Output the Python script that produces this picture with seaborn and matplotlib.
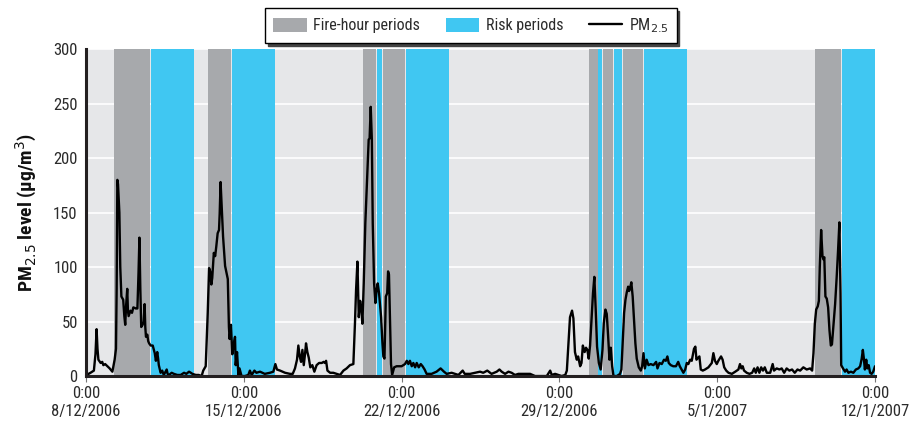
import numpy as np
import pandas as pd
import matplotlib
matplotlib.use("Agg")
import matplotlib.pyplot as plt
import matplotlib.dates as mdates
from matplotlib import font_manager
from matplotlib.patches import Patch
from matplotlib.lines import Line2D
import seaborn as sns

# ---------------- data ----------------
start_date = "2006-12-08"
tick_labels = ["0:00\n8/12/2006", "0:00\n15/12/2006", "0:00\n22/12/2006",
               "0:00\n29/12/2006", "0:00\n5/1/2007", "0:00\n12/1/2007"]
y_ticks = [0, 50, 100, 150, 200, 250, 300]

# fire-hour periods and risk periods (days since start)
fire_start = [1.25, 5.43, 12.30, 13.19, 22.32, 22.95, 23.82, 32.34]
fire_end = [2.84, 6.43, 12.87, 14.15, 22.70, 23.37, 24.70, 33.50]
risk_start = [2.88, 6.48, 12.90, 14.18, 22.73, 23.40, 24.76, 33.54]
risk_end = [4.80, 8.40, 13.15, 16.10, 22.91, 23.78, 26.66, 35.00]

# PM2.5 series (days since start, µg/m3)
pm_day = [0.00, 0.03, 0.20, 0.35, 0.42, 0.47, 0.51, 0.55, 0.65, 0.72, 0.77, 0.85, 0.95, 1.05, 1.17,
          1.27, 1.33, 1.36, 1.39, 1.42, 1.48, 1.52, 1.57, 1.65, 1.70, 1.74, 1.78, 1.83, 1.86, 1.89,
          1.97, 2.04, 2.10, 2.21, 2.28, 2.33, 2.37, 2.41, 2.45, 2.51, 2.56, 2.60, 2.63, 2.66, 2.72,
          2.76, 2.80, 2.87, 2.96, 3.00, 3.05, 3.10, 3.16, 3.20, 3.23, 3.31, 3.38, 3.45, 3.58, 3.62,
          3.68, 3.80, 3.90, 4.05, 4.20, 4.35, 4.45, 4.57, 4.65, 4.72, 4.87, 5.00, 5.13, 5.20, 5.31,
          5.40, 5.46, 5.51, 5.56, 5.60, 5.67, 5.73, 5.78, 5.84, 5.90, 5.93, 5.97, 6.02, 6.08, 6.17,
          6.29, 6.34, 6.37, 6.43, 6.49, 6.55, 6.61, 6.64, 6.70, 6.76, 6.81, 6.90, 7.05, 7.20, 7.27,
          7.35, 7.47, 7.56, 7.72, 7.93, 8.16, 8.31, 8.40, 8.47, 8.61, 8.83, 9.05, 9.17, 9.27, 9.36,
          9.42, 9.48, 9.54, 9.60, 9.66, 9.72, 9.76, 9.82, 9.88, 9.95, 10.04, 10.13, 10.23, 10.34, 10.46,
          10.54, 10.60, 10.65, 10.71, 10.83, 10.97, 11.12, 11.27, 11.42, 11.56, 11.71, 11.86, 11.93, 11.98, 12.04,
          12.10, 12.16, 12.22, 12.26, 12.32, 12.39, 12.48, 12.54, 12.58, 12.63, 12.68, 12.72, 12.78, 12.84, 12.89,
          12.94, 13.00, 13.09, 13.15, 13.19, 13.24, 13.30, 13.36, 13.40, 13.44, 13.49, 13.53, 13.58, 13.67, 13.78,
          14.00, 14.15, 14.23, 14.30, 14.37, 14.45, 14.52, 14.60, 14.67, 14.76, 14.85, 14.93, 15.02, 15.11, 15.33,
          15.55, 15.73, 15.88, 16.00, 16.22, 16.37, 16.52, 16.71, 16.80, 17.04, 17.26, 17.48, 17.62, 17.80, 17.99,
          18.22, 18.34, 18.44, 18.59, 18.74, 18.88, 19.03, 19.18, 19.33, 19.48, 19.70, 19.92, 20.14, 20.44, 20.59,
          20.66, 20.81, 20.96, 21.10, 21.26, 21.33, 21.40, 21.47, 21.56, 21.62, 21.69, 21.77, 21.83, 21.92, 21.98,
          22.04, 22.12, 22.18, 22.24, 22.30, 22.36, 22.43, 22.49, 22.55, 22.61, 22.67, 22.75, 22.83, 22.91, 22.97,
          23.04, 23.10, 23.16, 23.22, 23.28, 23.34, 23.40, 23.55, 23.69, 23.75, 23.81, 23.87, 23.93, 23.99, 24.05,
          24.09, 24.13, 24.19, 24.25, 24.31, 24.37, 24.43, 24.52, 24.61, 24.67, 24.73, 24.79, 24.87, 24.95, 25.05,
          25.17, 25.29, 25.35, 25.44, 25.54, 25.64, 25.72, 25.79, 25.85, 25.94, 26.05, 26.17, 26.27, 26.34, 26.42,
          26.50, 26.58, 26.65, 26.72, 26.80, 26.87, 26.97, 27.03, 27.08, 27.12, 27.21, 27.27, 27.36, 27.46, 27.61,
          27.76, 27.83, 27.90, 27.98, 28.05, 28.17, 28.24, 28.31, 28.40, 28.50, 28.65, 28.80, 28.94, 29.01, 29.07,
          29.13, 29.19, 29.31, 29.43, 29.55, 29.64, 29.71, 29.79, 29.87, 29.95, 30.03, 30.11, 30.20, 30.35, 30.46,
          30.52, 30.64, 30.76, 30.86, 30.97, 31.08, 31.20, 31.32, 31.44, 31.56, 31.68, 31.82, 31.97, 32.12, 32.21,
          32.27, 32.33, 32.39, 32.46, 32.51, 32.55, 32.61, 32.67, 32.71, 32.75, 32.80, 32.86, 32.92, 32.98, 33.04,
          33.09, 33.15, 33.23, 33.30, 33.36, 33.42, 33.47, 33.50, 33.58, 33.67, 33.74, 33.82, 33.93, 34.04, 34.15,
          34.26, 34.34, 34.41, 34.46, 34.50, 34.55, 34.61, 34.66, 34.72, 34.78, 34.85, 34.92, 35.00]
pm_val = [0, 1, 3, 5, 20, 43, 25, 15, 12, 13, 10, 11, 9, 7, 4,
          15, 25, 80, 180, 176, 150, 100, 73, 70, 55, 47, 65, 80, 60, 55,
          60, 58, 63, 62, 62, 95, 127, 80, 45, 47, 50, 66, 45, 36, 38,
          32, 30, 28, 28, 25, 21, 14, 22, 16, 10, 3, 5, 1, 6, 2,
          1, 3, 2, 1, 1, 3, 2, 4, 3, 2, 1, 1, 0, 5, 9,
          58, 99, 96, 84, 90, 113, 110, 119, 131, 134, 149, 178, 155, 128, 101,
          89, 45, 34, 47, 20, 29, 36, 10, 22, 1, 7, 0, 0, 1, 5,
          1, 5, 3, 4, 2, 3, 4, 11, 6, 5, 3, 2, 2, 7, 15,
          28, 18, 13, 24, 10, 21, 30, 22, 17, 8, 10, 4, 10, 12, 12,
          13, 12, 14, 5, 3, 3, 2, 1, 5, 7, 10, 11, 48, 79, 105,
          54, 69, 60, 48, 85, 140, 186, 217, 218, 247, 217, 140, 85, 67, 79,
          85, 76, 54, 30, 18, 16, 73, 76, 96, 93, 48, 11, 1, 8, 9,
          9, 11, 14, 11, 14, 9, 12, 8, 12, 8, 11, 9, 6, 2, 2,
          4, 7, 4, 2, 3, 2, 1, 5, 2, 2, 3, 4, 3, 5, 2,
          4, 6, 4, 2, 4, 3, 1, 2, 2, 2, 2, 0, 0, 0, 5,
          1, 2, 1, 0, 1, 5, 30, 54, 60, 53, 22, 15, 18, 9, 12,
          28, 22, 26, 24, 16, 28, 54, 76, 91, 61, 27, 12, 6, 24, 49,
          61, 57, 37, 15, 26, 9, 0, 0, 2, 6, 33, 58, 70, 77, 82,
          78, 80, 86, 73, 52, 30, 16, 8, 5, 9, 21, 7, 15, 10, 11,
          10, 13, 7, 12, 11, 15, 14, 18, 12, 10, 9, 9, 13, 9, 6,
          3, 6, 12, 11, 15, 14, 25, 27, 15, 16, 18, 6, 5, 6, 8,
          12, 21, 14, 11, 14, 18, 15, 8, 5, 3, 2, 4, 6, 11, 7,
          9, 5, 3, 2, 3, 7, 3, 8, 3, 8, 5, 8, 3, 3, 11,
          5, 7, 6, 7, 3, 7, 5, 6, 3, 6, 5, 8, 6, 7, 5,
          21, 48, 61, 64, 69, 100, 134, 110, 107, 109, 73, 71, 63, 42, 28,
          29, 45, 66, 91, 115, 141, 76, 10, 7, 4, 6, 3, 4, 3, 6,
          7, 9, 16, 24, 17, 6, 15, 7, 10, 3, 2, 4, 9]

# ---------------- style ----------------
sns.set_style("white")
avail = {f.name for f in font_manager.fontManager.ttflist}
fam = [f for f in ["Liberation Sans Narrow", "Roboto Condensed", "Open Sans Condensed", "Roboto"] if f in avail]
plt.rcParams["font.family"] = fam + ["DejaVu Sans"]

GRAY = "#A7A9AC"
BLUE = "#40C7F2"
BG = "#E6E7E9"
TXT = "#2b2b2b"

start = pd.Timestamp(start_date)
df = pd.DataFrame({"time": start + pd.to_timedelta(pm_day, unit="D"), "pm": pm_val})

fig = plt.figure(figsize=(9.11, 4.23), dpi=100)
ax = fig.add_axes([0.0944, 0.111, 0.8661, 0.773])
ax.set_facecolor(BG)

def d2n(d):
    return mdates.date2num(start + pd.Timedelta(days=d))

for s, e in zip(fire_start, fire_end):
    ax.axvspan(d2n(s), d2n(e), color=GRAY, lw=0, zorder=1)
for s, e in zip(risk_start, risk_end):
    ax.axvspan(d2n(s), d2n(e), color=BLUE, lw=0, zorder=1)

sns.lineplot(data=df, x="time", y="pm", ax=ax, color="black", lw=1.7, zorder=3, legend=False)

ax.set_xlim(d2n(0), d2n(35))
ax.set_ylim(0, 300)
ax.set_yticks(y_ticks)
ax.set_yticklabels([str(v) for v in y_ticks], fontsize=12, color=TXT)
ticks = [d2n(7 * i) for i in range(len(tick_labels))]
ax.set_xticks(ticks)
ax.set_xticklabels(tick_labels, fontsize=12, color=TXT, linespacing=1.25)
ax.tick_params(axis="x", length=4, width=0.8, color="#777777", pad=3, direction="out", bottom=True)
ax.tick_params(axis="y", length=0, pad=6, left=False)

ax.set_axisbelow(True)
ax.yaxis.grid(True, color="white", lw=1.2)
ax.xaxis.grid(False)
for side in ["top", "right"]:
    ax.spines[side].set_visible(False)
for side in ["left", "bottom"]:
    ax.spines[side].set_color("#231f20")
    ax.spines[side].set_linewidth(2.2)
    ax.spines[side].set_zorder(4)

ax.set_xlabel("")
ax.set_ylabel("PM$_{2.5}$ level (µg/m$^3$)", fontsize=14, fontweight="bold", color="#111111", labelpad=10)

handles = [Patch(facecolor=GRAY, edgecolor="none", label="Fire-hour periods"),
           Patch(facecolor=BLUE, edgecolor="none", label="Risk periods"),
           Line2D([0], [0], color="black", lw=1.7, label="PM$_{2.5}$")]
leg = fig.legend(handles=handles, loc="center", bbox_to_anchor=(0.517, 0.939), ncol=3,
                 frameon=True, fancybox=False, edgecolor="black", fontsize=11.5,
                 handlelength=2.1, handleheight=0.9, columnspacing=1.6, handletextpad=0.4,
                 borderpad=0.5, shadow={"color": "#444444", "alpha": 1.0})
leg.get_frame().set_linewidth(1.0)
for t in leg.get_texts():
    t.set_color(TXT)

fig.savefig("out.png", dpi=100)
